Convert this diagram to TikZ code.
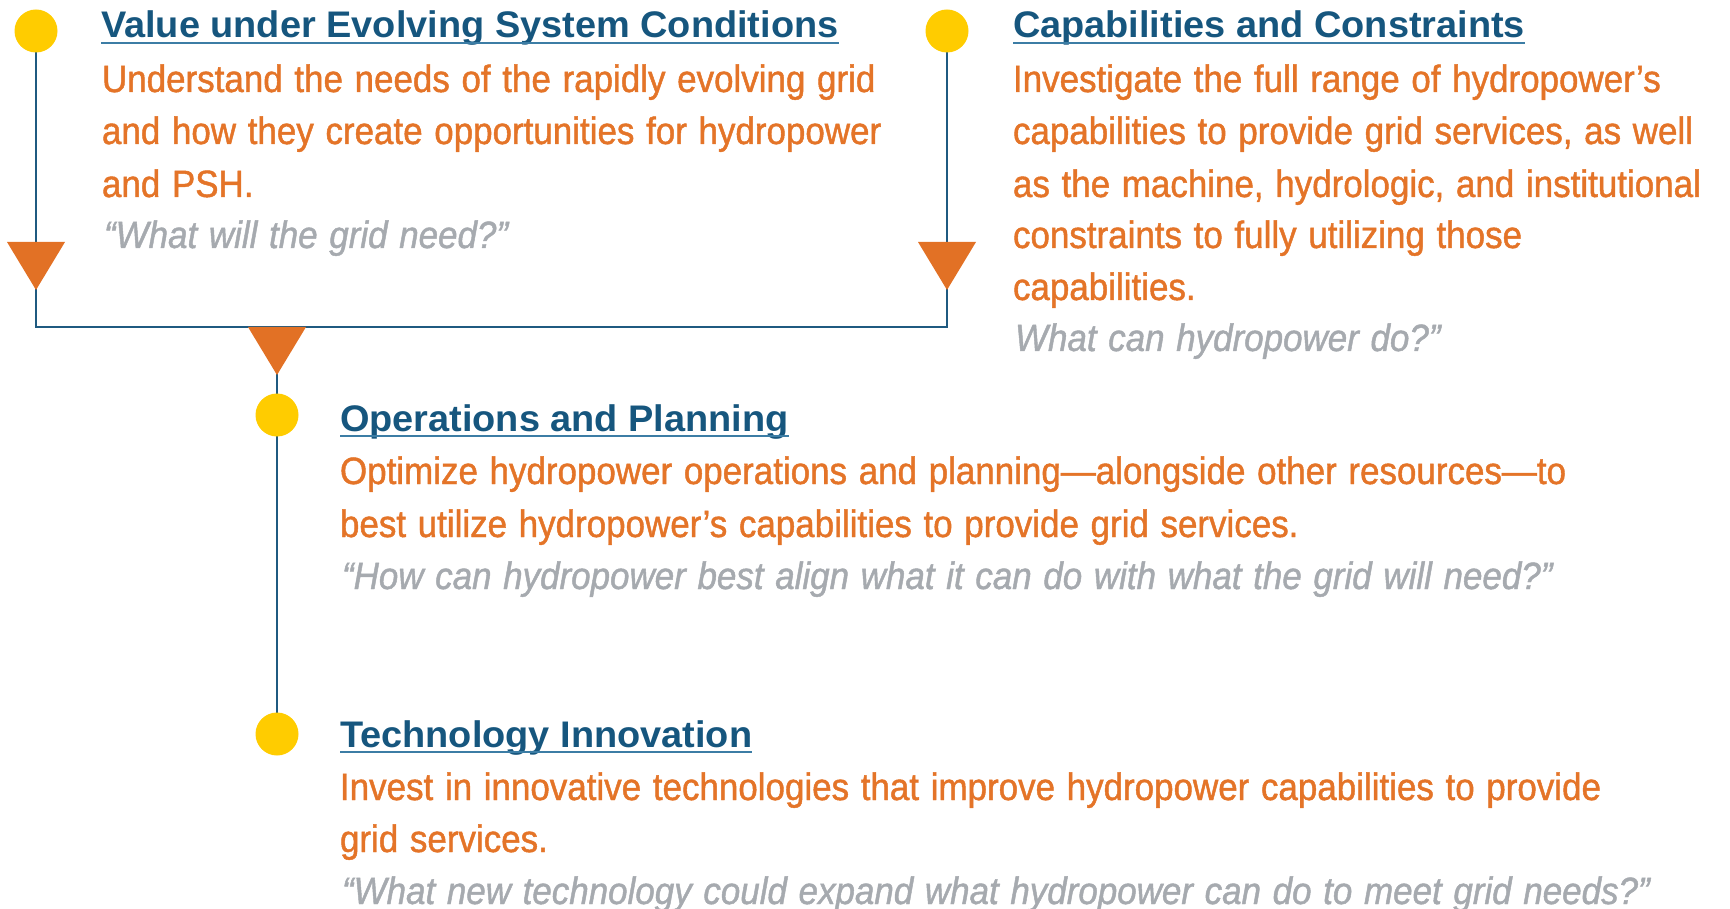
\documentclass[tikz,border=0pt]{standalone}
\usepackage{fontspec}
\setmainfont{Liberation Sans}[FakeStretch=0.92,WordSpace=1.2,FakeBold=1.2]
\newfontfamily\ttlfont{Liberation Sans}[FakeStretch=1.025,WordSpace=1.0]
\usetikzlibrary{calc}
\definecolor{tblue}{RGB}{22,86,126}
\definecolor{lblue}{RGB}{31,90,128}
\definecolor{ublue}{RGB}{60,125,165}
\definecolor{orng}{RGB}{228,116,40}
\definecolor{torng}{RGB}{226,113,37}
\definecolor{qgrey}{RGB}{166,170,175}
\definecolor{dyellow}{RGB}{255,204,0}
\newcommand\downtri[1]{\fill[torng] ($(#1)+(-29,0)$) -- ($(#1)+(29,0)$) -- ($(#1)+(0,48)$) -- cycle;}
\begin{document}
\begin{tikzpicture}[x=1pt,y=-1pt,
 every node/.style={inner sep=0pt, outer sep=0pt},
 ttl/.style={anchor=base west, text=tblue, font=\ttlfont\bfseries\fontsize{37}{40}\selectfont},
 body/.style={anchor=base west, text=orng, font=\fontsize{38}{40}\selectfont},
 qte/.style={anchor=base west, text=qgrey, font=\fontsize{38}{40}\selectfont\itshape},
 dot/.style={circle, fill=dyellow, minimum size=43pt},
 link/.style={draw=lblue, line width=2.8pt},
 uline/.style={draw=ublue, line width=2pt}]
\useasboundingbox (0,0) rectangle (1730,909);
% dots
\path (36,31) coordinate (p1) (947,31) coordinate (p2) (277,415) coordinate (p3) (277,734) coordinate (p4);
\coordinate (c1) at (36,327);
\coordinate (c2) at (947,327);
\coordinate (t1) at (36,242);
\coordinate (t2) at (947,242);
\coordinate (t3) at (277,327);
\draw[link] (p1) -- (c1) -- (c2) -- (p2);
\draw[link] (t3) -- (p4);
\downtri{t1}
\downtri{t2}
\downtri{t3}
\node[dot] (d1) at (p1) {};
\node[dot] (d2) at (p2) {};
\node[dot] (d3) at (p3) {};
\node[dot] (d4) at (p4) {};
% block 1
\node[ttl] (h1) at (101,38) {Value under Evolving System Conditions};
\draw[uline] ([yshift=-5pt]h1.base west) -- ([yshift=-5pt]h1.base east);
\node[body] (a1) at (102,92) {Understand the needs of the rapidly evolving grid};
\node[body] (a2) at (102,144) {and how they create opportunities for hydropower};
\node[body] (a3) at (102,197) {and PSH.};
\node[qte] (a4) at (104,248) {“What will the grid need?”};
% block 2
\node[ttl] (h2) at (1013,38) {Capabilities and Constraints};
\draw[uline] ([yshift=-5pt]h2.base west) -- ([yshift=-5pt]h2.base east);
\node[body] (b1) at (1013,92) {Investigate the full range of hydropower’s};
\node[body] (b2) at (1013,144) {capabilities to provide grid services, as well};
\node[body] (b3) at (1013,197) {as the machine, hydrologic, and institutional};
\node[body] (b4) at (1013,248) {constraints to fully utilizing those};
\node[body] (b5) at (1013,300) {capabilities.};
\node[qte] (b6) at (1015,351) {What can hydropower do?”};
% block 3
\node[ttl] (h3) at (340,431) {Operations and Planning};
\draw[uline] ([yshift=-5pt]h3.base west) -- ([yshift=-5pt]h3.base east);
\node[body] (e1) at (340,484) {Optimize hydropower operations and planning—alongside other resources—to};
\node[body] (e2) at (340,537) {best utilize hydropower’s capabilities to provide grid services.};
\node[qte] (e3) at (342,589) {“How can hydropower best align what it can do with what the grid will need?”};
% block 4
\node[ttl] (h4) at (340,747) {Technology Innovation};
\draw[uline] ([yshift=-5pt]h4.base west) -- ([yshift=-5pt]h4.base east);
\node[body] (f1) at (340,800) {Invest in innovative technologies that improve hydropower capabilities to provide};
\node[body] (f2) at (340,852) {grid services.};
\node[qte] (f3) at (342,904) {“What new technology could expand what hydropower can do to meet grid needs?”};
\end{tikzpicture}
\end{document}
